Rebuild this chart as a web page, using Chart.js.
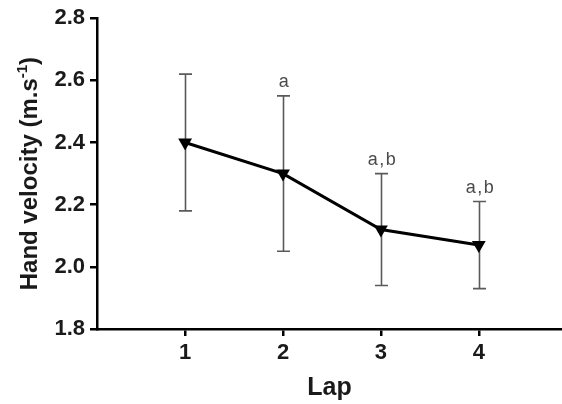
<!DOCTYPE html>
<html>
<head>
<meta charset="utf-8">
<script src="https://cdn.jsdelivr.net/npm/chart.js@4"></script>
<style>
  html, body { margin: 0; padding: 0; background: #fff; }
  #wrap { width: 562px; height: 404px; position: relative; }
</style>
</head>
<body>
<div id="wrap"><canvas id="chart"></canvas></div>
<script>
// Mean hand velocity per lap, with SD bars and significance letters
const laps = [1, 2, 3, 4];
const velocity = [2.40, 2.30, 2.12, 2.07];
const barTop = [2.62, 2.55, 2.30, 2.21];
const barBottom = [2.18, 2.05, 1.94, 1.93];
const marks = ["", "a", "a,b", "a,b"];
const yTicks = [1.8, 2.0, 2.2, 2.4, 2.6, 2.8];

const FAMILY = "'Liberation Sans', Arial, sans-serif";

// whiskers and letters drawn under the line
const errorBars = {
    id: "errorBars",
    beforeDatasetsDraw(chart) {
        const { ctx, scales: { x, y } } = chart;
        ctx.save();
        ctx.strokeStyle = "#5a5a5a";
        ctx.lineWidth = 1.6;
        laps.forEach((lap, i) => {
            const px = Math.round(x.getPixelForValue(lap)) + 0.5;
            const t = y.getPixelForValue(barTop[i]);
            const b = y.getPixelForValue(barBottom[i]);
            ctx.beginPath();
            ctx.moveTo(px, t); ctx.lineTo(px, b);
            ctx.moveTo(px - 6.5, t); ctx.lineTo(px + 6.5, t);
            ctx.moveTo(px - 6.5, b); ctx.lineTo(px + 6.5, b);
            ctx.stroke();
            if (marks[i]) {
                ctx.fillStyle = "#4a4a4a";
                ctx.font = "18px " + FAMILY;
                ctx.letterSpacing = "1.5px";
                ctx.textAlign = "center";
                ctx.textBaseline = "alphabetic";
                ctx.fillText(marks[i], px + 1, t - 9);
            }
        });
        ctx.restore();
    }
};

// y title with superscript exponent
const yTitle = {
    id: "yTitle",
    afterDraw(chart) {
        const { ctx, chartArea } = chart;
        const main = "Hand velocity (m.s";
        const big = "bold 24px " + FAMILY;
        const small = "bold 15px " + FAMILY;
        ctx.save();
        ctx.font = big;
        const w1 = ctx.measureText(main).width;
        ctx.font = small;
        const w2 = ctx.measureText("-1").width;
        ctx.font = big;
        const w3 = ctx.measureText(")").width;
        const total = w1 + w2 + w3;
        const cy = (chartArea.top + chartArea.bottom) / 2;
        ctx.translate(37, cy);
        ctx.rotate(-Math.PI / 2);
        ctx.fillStyle = "#1a1a1a";
        ctx.textBaseline = "alphabetic";
        ctx.textAlign = "left";
        let sx = -total / 2;
        ctx.font = big;
        ctx.fillText(main, sx, 0);
        sx += w1;
        ctx.font = small;
        ctx.fillText("-1", sx, -10);
        sx += w2;
        ctx.font = big;
        ctx.fillText(")", sx, 0);
        ctx.restore();
    }
};

const tickFont = { family: FAMILY, size: 22, weight: "bold" };

new Chart(document.getElementById("chart"), {
    type: "line",
    data: {
        datasets: [{
            data: laps.map((lap, i) => ({ x: lap, y: velocity[i] })),
            borderColor: "#000",
            borderWidth: 3,
            pointStyle: "triangle",
            rotation: 180,
            pointRadius: 8,
            pointBackgroundColor: "#000",
            pointBorderColor: "#000",
            pointBorderWidth: 0,
            tension: 0
        }]
    },
    options: {
        responsive: true,
        maintainAspectRatio: false,
        animation: false,
        layout: { autoPadding: false, padding: { top: 16, right: 0, left: 0, bottom: 0 } },
        plugins: { legend: { display: false }, tooltip: { enabled: false } },
        scales: {
            x: {
                type: "linear",
                min: 0.1,
                max: 4.85,
                afterBuildTicks: (axis) => { axis.ticks = laps.map(v => ({ value: v })); },
                afterFit: (axis) => { axis.height = 75; axis.paddingLeft = 0; axis.paddingRight = 0; },
                border: { color: "#000", width: 2.5 },
                grid: { drawOnChartArea: false, color: "#000", lineWidth: 2.5, tickLength: 7 },
                ticks: { color: "#1a1a1a", font: tickFont, padding: 4, maxRotation: 0 },
                title: {
                    display: true, text: "Lap", color: "#1a1a1a",
                    font: { family: FAMILY, size: 25, weight: "bold" },
                    padding: { top: 0, bottom: 1 }
                }
            },
            y: {
                min: 1.8,
                max: 2.8,
                afterBuildTicks: (axis) => { axis.ticks = yTicks.map(v => ({ value: v })); },
                afterFit: (axis) => { axis.width = 97; },
                border: { color: "#000", width: 2.5 },
                grid: { drawOnChartArea: false, color: "#000", lineWidth: 2.5, tickLength: 7 },
                ticks: { color: "#1a1a1a", font: tickFont, padding: 5, callback: v => v.toFixed(1) }
            }
        }
    },
    plugins: [errorBars, yTitle]
});
</script>
</body>
</html>
